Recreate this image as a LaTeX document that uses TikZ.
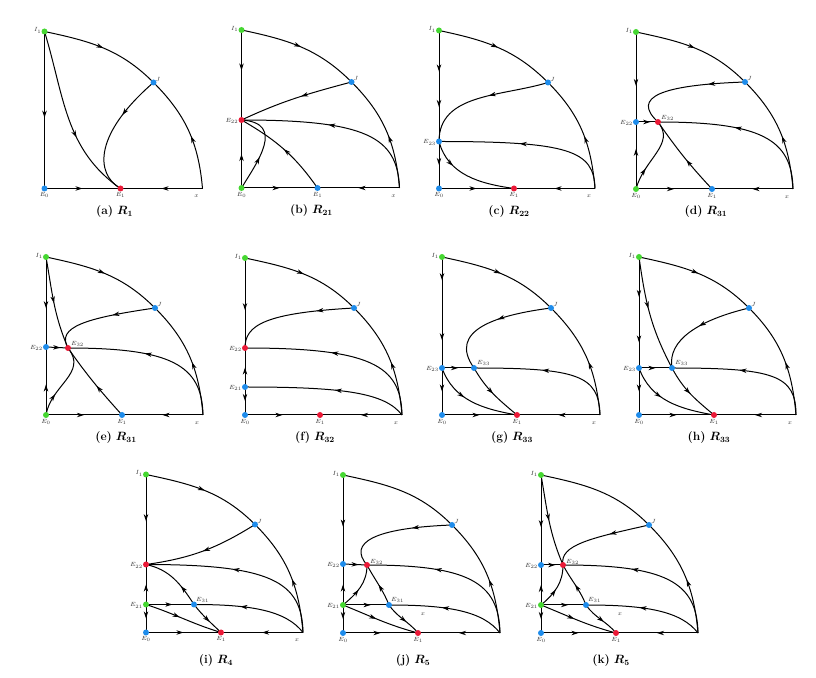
\documentclass[tikz,border=0pt]{standalone}
\usepackage{bm}
\usetikzlibrary{arrows.meta,decorations.markings}
\definecolor{cg}{RGB}{70,215,50}
\definecolor{cb}{RGB}{30,140,235}
\definecolor{cr}{RGB}{235,25,55}
\tikzset{
  traj/.style={line width=1pt,draw=black},
  arr/.style={postaction={decorate,decoration={markings,mark=at position #1 with {\arrow{Stealth[length=7pt,width=4.4pt,inset=2pt]}}}}},
  arr/.default=0.5,
  eqdot/.style={circle,inner sep=0pt,minimum size=6pt,draw=none},
  lab/.style={font=\fontsize{6.3}{7}\selectfont,text=black!80,inner sep=0pt},
  captxt/.style={font=\fontsize{12}{14}\selectfont,inner sep=0pt}
}
\newcommand{\EqPt}[5]{\node[eqdot,fill=#2] (#1d) at (#1) {};\node[lab,anchor=#3] (#1l) at ([shift={(#4)}]#1) {$#5$};}
\begin{document}
\begin{tikzpicture}[x=1pt,y=1pt]
\useasboundingbox (0,0) rectangle (816,677);
% ---------------- (a)
\begin{scope}[shift={(44.5,488.5)}]
\coordinate (a-I1) at (0,157); \coordinate (a-E0) at (0,0); \coordinate (a-E1) at (76,0);
\coordinate (a-X) at (158,0); \coordinate (a-J) at (109,106);
\draw[traj,arr=0.55] (a-I1) -- (a-E0);
\draw[traj,arr] (a-E0) -- (a-E1);
\draw[traj,arr] (a-X) -- (a-E1);
\draw[traj,arr] (a-I1) to[out=-12,in=135] (a-J);
\draw[traj,arr=0.45] (a-X) to[out=95,in=-45] (a-J);
\draw[traj,arr=0.62] (a-I1) to[out=-73,in=145] (a-E1);
\draw[traj,arr=0.35] (a-J) .. controls (50,55) and (50,15) .. (a-E1);
\EqPt{a-I1}{cg}{east}{-3,1}{I_1}
\EqPt{a-E0}{cb}{north}{0,-4}{E_0}
\EqPt{a-E1}{cr}{north}{0,-4}{E_1}
\EqPt{a-J}{cb}{south west}{2,1}{J}
\node[lab] (a-xl) at ([shift={(-6,-8)}]a-X) {$x$};
\node[captxt] (a-cap) at (70,-23) {\textbf{(a)} $\bm{R_{1}}$};
\end{scope}
% ---------------- (b)
\begin{scope}[shift={(241.5,489)}]
\coordinate (b-I1) at (0,158); \coordinate (b-E22) at (0,68); \coordinate (b-E0) at (0,0);
\coordinate (b-E1) at (76,0); \coordinate (b-X) at (158,0); \coordinate (b-J) at (110,106);
\draw[traj,arr=0.45] (b-I1) -- (b-E22);
\draw[traj,arr] (b-E0) -- (b-E22);
\draw[traj,arr] (b-E0) -- (b-E1);
\draw[traj,arr] (b-X) -- (b-E1);
\draw[traj,arr] (b-I1) to[out=-12,in=135] (b-J);
\draw[traj,arr=0.45] (b-X) to[out=95,in=-45] (b-J);
\draw[traj,arr=0.45] (b-J) to[out=195,in=25] (b-E22);
\draw[traj,arr=0.55] (b-X) .. controls (156,51) and (125,68) .. (b-E22);
\draw[traj,arr] (b-E1) to[out=125,in=-30] (b-E22);
\draw[traj,arr=0.4] (b-E0) .. controls (15,25) and (45,65) .. (b-E22);
\EqPt{b-I1}{cg}{east}{-3,1}{I_1}
\EqPt{b-E22}{cr}{east}{-3,-1}{E_{22}}
\EqPt{b-E0}{cg}{north}{0,-4}{E_0}
\EqPt{b-E1}{cb}{north}{0,-4}{E_1}
\EqPt{b-J}{cb}{south west}{2,1}{J}
\node[lab] (b-xl) at ([shift={(-6,-8)}]b-X) {$x$};
\node[captxt] (b-cap) at (70,-23) {\textbf{(b)} $\bm{R_{21}}$};
\end{scope}
% ---------------- (c)
\begin{scope}[shift={(439,488.5)}]
\coordinate (c-I1) at (0,158); \coordinate (c-E23) at (0,47); \coordinate (c-E0) at (0,0);
\coordinate (c-E1) at (75,0); \coordinate (c-X) at (156,0); \coordinate (c-J) at (109,106);
\draw[traj,arr=0.37,arr=0.69] (c-I1) -- (c-E23);
\draw[traj,arr] (c-E23) -- (c-E0);
\draw[traj,arr] (c-E0) -- (c-E1);
\draw[traj,arr] (c-X) -- (c-E1);
\draw[traj,arr] (c-I1) to[out=-12,in=135] (c-J);
\draw[traj,arr=0.45] (c-X) to[out=95,in=-45] (c-J);
\draw[traj,arr=0.45] (c-J) to[out=197,in=90] (c-E23);
\draw[traj,arr=0.55] (c-X) .. controls (155,38) and (130,47) .. (c-E23);
\draw[traj,arr=0.3] (c-E23) to[out=-75,in=172] (c-E1);
\EqPt{c-I1}{cg}{east}{-3,1}{I_1}
\EqPt{c-E23}{cb}{east}{-3,-1}{E_{23}}
\EqPt{c-E0}{cb}{north}{0,-4}{E_0}
\EqPt{c-E1}{cr}{north}{0,-4}{E_1}
\EqPt{c-J}{cb}{south west}{2,1}{J}
\node[lab] (c-xl) at ([shift={(-6,-8)}]c-X) {$x$};
\node[captxt] (c-cap) at (70,-23) {\textbf{(c)} $\bm{R_{22}}$};
\end{scope}
% ---------------- (d)
\begin{scope}[shift={(636,488)}]
\coordinate (d-I1) at (0,157); \coordinate (d-E22) at (0,67); \coordinate (d-E32) at (22,67);
\coordinate (d-E0) at (0,0); \coordinate (d-E1) at (76,0); \coordinate (d-X) at (157,0);
\coordinate (d-J) at (109,107);
\draw[traj,arr=0.6] (d-I1) -- (d-E22);
\draw[traj,arr=0.6] (d-E0) -- (d-E22);
\draw[traj,arr=0.65] (d-E22) -- (d-E32);
\draw[traj,arr] (d-E0) -- (d-E1);
\draw[traj,arr] (d-X) -- (d-E1);
\draw[traj,arr] (d-I1) to[out=-12,in=135] (d-J);
\draw[traj,arr=0.45] (d-X) to[out=95,in=-45] (d-J);
\draw[traj,arr=0.3] (d-J) .. controls (25,104) and (-5,92) .. (d-E32);
\draw[traj,arr=0.55] (d-X) .. controls (156,50) and (125,67) .. (d-E32);
\draw[traj,arr=0.45] (d-E1) to[out=133,in=-55] (d-E32);
\draw[traj,arr=0.3] (d-E0) .. controls (8,30) and (40,45) .. (d-E32);
\EqPt{d-I1}{cg}{east}{-3,1}{I_1}
\EqPt{d-E22}{cb}{east}{-3,-1}{E_{22}}
\EqPt{d-E32}{cr}{south west}{3,1}{E_{32}}
\EqPt{d-E0}{cg}{north}{0,-4}{E_0}
\EqPt{d-E1}{cb}{north}{0,-4}{E_1}
\EqPt{d-J}{cb}{south west}{2,1}{J}
\node[lab] (d-xl) at ([shift={(-6,-8)}]d-X) {$x$};
\node[captxt] (d-cap) at (70,-23) {\textbf{(d)} $\bm{R_{31}}$};
\end{scope}
% ---------------- (e)
\begin{scope}[shift={(46,262)}]
\coordinate (e-I1) at (0,158); \coordinate (e-E22) at (0,68); \coordinate (e-E32) at (22,67);
\coordinate (e-E0) at (0,0); \coordinate (e-E1) at (76,0); \coordinate (e-X) at (157,0);
\coordinate (e-J) at (109,107);
\draw[traj,arr=0.57] (e-I1) -- (e-E22);
\draw[traj,arr=0.45] (e-E0) -- (e-E22);
\draw[traj,arr=0.65] (e-E22) -- (e-E32);
\draw[traj,arr] (e-E0) -- (e-E1);
\draw[traj,arr] (e-X) -- (e-E1);
\draw[traj,arr] (e-I1) to[out=-12,in=135] (e-J);
\draw[traj,arr=0.45] (e-X) to[out=95,in=-45] (e-J);
\draw[traj,arr=0.5] (e-I1) to[out=-80,in=113] (e-E32);
\draw[traj,arr=0.4] (e-J) .. controls (40,97) and (10,88) .. (e-E32);
\draw[traj,arr=0.55] (e-X) .. controls (156,50) and (125,67) .. (e-E32);
\draw[traj,arr=0.45] (e-E1) to[out=132,in=-55] (e-E32);
\draw[traj,arr=0.3] (e-E0) .. controls (5,30) and (42,42) .. (e-E32);
\EqPt{e-I1}{cg}{east}{-3,1}{I_1}
\EqPt{e-E22}{cb}{east}{-3,-1}{E_{22}}
\EqPt{e-E32}{cr}{south west}{3,1}{E_{32}}
\EqPt{e-E0}{cg}{north}{0,-4}{E_0}
\EqPt{e-E1}{cb}{north}{0,-4}{E_1}
\EqPt{e-J}{cb}{south west}{2,1}{J}
\node[lab] (e-xl) at ([shift={(-6,-8)}]e-X) {$x$};
\node[captxt] (e-cap) at (70,-23) {\textbf{(e)} $\bm{R_{31}}$};
\end{scope}
% ---------------- (f)
\begin{scope}[shift={(245,262)}]
\coordinate (f-I1) at (0,157); \coordinate (f-E22) at (0,67); \coordinate (f-E21) at (0,28);
\coordinate (f-E0) at (0,0); \coordinate (f-E1) at (75,0); \coordinate (f-X) at (157,0);
\coordinate (f-J) at (109,107);
\draw[traj,arr=0.58] (f-I1) -- (f-E22);
\draw[traj,arr] (f-E21) -- (f-E22);
\draw[traj,arr] (f-E21) -- (f-E0);
\draw[traj,arr] (f-E0) -- (f-E1);
\draw[traj,arr] (f-X) -- (f-E1);
\draw[traj,arr] (f-I1) to[out=-12,in=135] (f-J);
\draw[traj,arr=0.45] (f-X) to[out=95,in=-45] (f-J);
\draw[traj,arr=0.3] (f-J) .. controls (20,102) and (0,90) .. (f-E22);
\draw[traj,arr=0.55] (f-X) .. controls (156,50) and (125,67) .. (f-E22);
\draw[traj,arr=0.45] (f-X) .. controls (140,22) and (100,28) .. (f-E21);
\EqPt{f-I1}{cg}{east}{-3,1}{I_1}
\EqPt{f-E22}{cr}{east}{-3,-1}{E_{22}}
\EqPt{f-E21}{cb}{east}{-3,-1}{E_{21}}
\EqPt{f-E0}{cb}{north}{0,-4}{E_0}
\EqPt{f-E1}{cr}{north}{0,-4}{E_1}
\EqPt{f-J}{cb}{south west}{2,1}{J}
\node[lab] (f-xl) at ([shift={(-6,-8)}]f-X) {$x$};
\node[captxt] (f-cap) at (70,-23) {\textbf{(f)} $\bm{R_{32}}$};
\end{scope}
% ---------------- (g)
\begin{scope}[shift={(442,262)}]
\coordinate (g-I1) at (0,158); \coordinate (g-E23) at (0,47); \coordinate (g-E33) at (32,47);
\coordinate (g-E0) at (0,0); \coordinate (g-E1) at (75,0); \coordinate (g-X) at (158,0);
\coordinate (g-J) at (109,107);
\draw[traj,arr=0.21,arr=0.75] (g-I1) -- (g-E23);
\draw[traj,arr] (g-E23) -- (g-E0);
\draw[traj,arr] (g-E23) -- (g-E33);
\draw[traj,arr] (g-E0) -- (g-E1);
\draw[traj,arr] (g-X) -- (g-E1);
\draw[traj,arr] (g-I1) to[out=-12,in=135] (g-J);
\draw[traj,arr=0.45] (g-X) to[out=95,in=-45] (g-J);
\draw[traj,arr=0.45] (g-J) .. controls (55,100) and (5,85) .. (g-E33);
\draw[traj,arr=0.55] (g-X) .. controls (157,40) and (135,47) .. (g-E33);
\draw[traj,arr] (g-E33) to[out=-60,in=140] (g-E1);
\draw[traj,arr=0.4] (g-E23) to[out=-70,in=170] (g-E1);
\EqPt{g-I1}{cg}{east}{-3,1}{I_1}
\EqPt{g-E23}{cb}{east}{-3,-1}{E_{23}}
\EqPt{g-E33}{cb}{south west}{3,2}{E_{33}}
\EqPt{g-E0}{cb}{north}{0,-4}{E_0}
\EqPt{g-E1}{cr}{north}{0,-4}{E_1}
\EqPt{g-J}{cb}{south west}{2,1}{J}
\node[lab] (g-xl) at ([shift={(-6,-8)}]g-X) {$x$};
\node[captxt] (g-cap) at (70,-23) {\textbf{(g)} $\bm{R_{33}}$};
\end{scope}
% ---------------- (h)
\begin{scope}[shift={(639,262)}]
\coordinate (h-I1) at (0,158); \coordinate (h-E23) at (0,47); \coordinate (h-E33) at (33,47);
\coordinate (h-E0) at (0,0); \coordinate (h-E1) at (75,0); \coordinate (h-X) at (157,0);
\coordinate (h-J) at (110,107);
\draw[traj,arr=0.36,arr=0.77] (h-I1) -- (h-E23);
\draw[traj,arr] (h-E23) -- (h-E0);
\draw[traj,arr] (h-E23) -- (h-E33);
\draw[traj,arr] (h-E0) -- (h-E1);
\draw[traj,arr] (h-X) -- (h-E1);
\draw[traj,arr] (h-I1) to[out=-12,in=135] (h-J);
\draw[traj,arr=0.45] (h-X) to[out=95,in=-45] (h-J);
\draw[traj,arr=0.45] (h-I1) to[out=-82,in=118] (h-E33);
\draw[traj,arr=0.5] (h-J) .. controls (60,95) and (28,75) .. (h-E33);
\draw[traj,arr=0.55] (h-X) .. controls (157,40) and (135,47) .. (h-E33);
\draw[traj,arr] (h-E33) to[out=-62,in=140] (h-E1);
\draw[traj,arr=0.4] (h-E23) to[out=-70,in=170] (h-E1);
\EqPt{h-I1}{cg}{east}{-3,1}{I_1}
\EqPt{h-E23}{cb}{east}{-3,-1}{E_{23}}
\EqPt{h-E33}{cb}{south west}{3,2}{E_{33}}
\EqPt{h-E0}{cb}{north}{0,-4}{E_0}
\EqPt{h-E1}{cr}{north}{0,-4}{E_1}
\EqPt{h-J}{cb}{south west}{2,1}{J}
\node[lab] (h-xl) at ([shift={(-6,-8)}]h-X) {$x$};
\node[captxt] (h-cap) at (70,-23) {\textbf{(h)} $\bm{R_{33}}$};
\end{scope}
% ---------------- (i)
\begin{scope}[shift={(146,44.5)}]
\coordinate (i-I1) at (0,158); \coordinate (i-E22) at (0,68); \coordinate (i-E21) at (0,28);
\coordinate (i-E31) at (48,28); \coordinate (i-E0) at (0,0); \coordinate (i-E1) at (75,0);
\coordinate (i-X) at (157,0); \coordinate (i-J) at (109,108);
\draw[traj,arr=0.52] (i-I1) -- (i-E22);
\draw[traj,arr=0.5] (i-E21) -- (i-E22);
\draw[traj,arr=0.5] (i-E21) -- (i-E0);
\draw[traj,arr=0.55] (i-E21) -- (i-E31);
\draw[traj,arr] (i-E0) -- (i-E1);
\draw[traj,arr] (i-X) -- (i-E1);
\draw[traj,arr] (i-I1) to[out=-12,in=135] (i-J);
\draw[traj,arr=0.45] (i-X) to[out=95,in=-45] (i-J);
\draw[traj,arr=0.5] (i-J) to[out=212,in=8] (i-E22);
\draw[traj,arr=0.55] (i-X) .. controls (156,51) and (125,68) .. (i-E22);
\draw[traj,arr=0.6] (i-X) .. controls (140,22) and (105,28) .. (i-E31);
\draw[traj,arr=0.35] (i-E31) to[out=123,in=-12] (i-E22);
\draw[traj,arr=0.6] (i-E31) to[out=-52,in=136] (i-E1);
\draw[traj,arr=0.45] (i-E21) to[out=-18,in=163] (i-E1);
\EqPt{i-I1}{cg}{east}{-3,1}{I_1}
\EqPt{i-E22}{cr}{east}{-3,-1}{E_{22}}
\EqPt{i-E21}{cg}{east}{-3,-1}{E_{21}}
\EqPt{i-E31}{cb}{south west}{2,2}{E_{31}}
\EqPt{i-E0}{cb}{north}{0,-4}{E_0}
\EqPt{i-E1}{cr}{north}{0,-4}{E_1}
\EqPt{i-J}{cb}{south west}{2,1}{J}
\node[lab] (i-xl) at ([shift={(-6,-8)}]i-X) {$x$};
\node[captxt] (i-cap) at (70,-28) {\textbf{(i)} $\bm{R_{4}}$};
\end{scope}
% ---------------- (j)
\begin{scope}[shift={(343,44)}]
\coordinate (j-I1) at (0,158); \coordinate (j-E22) at (0,69); \coordinate (j-E32) at (24,68);
\coordinate (j-E21) at (0,28); \coordinate (j-E31) at (46,28); \coordinate (j-E0) at (0,0);
\coordinate (j-E1) at (75,0); \coordinate (j-X) at (157,0); \coordinate (j-J) at (109,108);
\draw[traj,arr=0.58] (j-I1) -- (j-E22);
\draw[traj,arr] (j-E21) -- (j-E22);
\draw[traj,arr] (j-E21) -- (j-E0);
\draw[traj,arr=0.65] (j-E22) -- (j-E32);
\draw[traj,arr=0.6] (j-E21) -- (j-E31);
\draw[traj,arr] (j-E0) -- (j-E1);
\draw[traj,arr] (j-X) -- (j-E1);
\draw[traj] (j-I1) to[out=-12,in=135] (j-J);
\draw[traj,arr=0.45] (j-X) to[out=95,in=-45] (j-J);
\draw[traj,arr=0.35] (j-J) .. controls (30,105) and (5,90) .. (j-E32);
\draw[traj,arr=0.6] (j-X) .. controls (156,51) and (125,68) .. (j-E32);
\draw[traj,arr=0.55] (j-X) .. controls (140,22) and (105,28) .. (j-E31);
\draw[traj,arr=0.45] (j-E21) to[out=40,in=-90] (j-E32);
\draw[traj,arr] (j-E31) to[out=112,in=-62] (j-E32);
\draw[traj,arr=0.6] (j-E31) to[out=-55,in=130] (j-E1);
\draw[traj,arr=0.45] (j-E21) to[out=-22,in=165] (j-E1);
\EqPt{j-I1}{cg}{east}{-3,1}{I_1}
\EqPt{j-E22}{cb}{east}{-3,-1}{E_{22}}
\EqPt{j-E32}{cr}{south west}{3,0}{E_{32}}
\EqPt{j-E21}{cg}{east}{-3,-1}{E_{21}}
\EqPt{j-E31}{cb}{south west}{2,2}{E_{31}}
\EqPt{j-E0}{cb}{north}{0,-4}{E_0}
\EqPt{j-E1}{cr}{north}{0,-4}{E_1}
\EqPt{j-J}{cb}{south west}{2,1}{J}
\node[lab] (j-xl) at (80,19) {$x$};
\node[captxt] (j-cap) at (70,-28) {\textbf{(j)} $\bm{R_{5}}$};
\end{scope}
% ---------------- (k)
\begin{scope}[shift={(541,44)}]
\coordinate (k-I1) at (0,158); \coordinate (k-E22) at (0,68); \coordinate (k-E32) at (22,68);
\coordinate (k-E21) at (0,28); \coordinate (k-E31) at (45,28); \coordinate (k-E0) at (0,0);
\coordinate (k-E1) at (75,0); \coordinate (k-X) at (157,0); \coordinate (k-J) at (108,108);
\draw[traj,arr=0.58] (k-I1) -- (k-E22);
\draw[traj,arr] (k-E21) -- (k-E22);
\draw[traj,arr] (k-E21) -- (k-E0);
\draw[traj,arr=0.65] (k-E22) -- (k-E32);
\draw[traj,arr=0.6] (k-E21) -- (k-E31);
\draw[traj,arr] (k-E0) -- (k-E1);
\draw[traj,arr] (k-X) -- (k-E1);
\draw[traj] (k-I1) to[out=-12,in=135] (k-J);
\draw[traj,arr=0.45] (k-X) to[out=95,in=-45] (k-J);
\draw[traj,arr=0.5] (k-I1) to[out=-80,in=113] (k-E32);
\draw[traj,arr=0.4] (k-J) .. controls (50,95) and (18,88) .. (k-E32);
\draw[traj,arr=0.6] (k-X) .. controls (156,51) and (125,68) .. (k-E32);
\draw[traj,arr=0.55] (k-X) .. controls (140,22) and (105,28) .. (k-E31);
\draw[traj,arr=0.45] (k-E21) to[out=40,in=-90] (k-E32);
\draw[traj,arr] (k-E31) to[out=112,in=-62] (k-E32);
\draw[traj,arr=0.6] (k-E31) to[out=-55,in=130] (k-E1);
\draw[traj,arr=0.45] (k-E21) to[out=-22,in=165] (k-E1);
\EqPt{k-I1}{cg}{east}{-3,1}{I_1}
\EqPt{k-E22}{cb}{east}{-3,-1}{E_{22}}
\EqPt{k-E32}{cr}{south west}{3,0}{E_{32}}
\EqPt{k-E21}{cg}{east}{-3,-1}{E_{21}}
\EqPt{k-E31}{cb}{south west}{2,2}{E_{31}}
\EqPt{k-E0}{cb}{north}{0,-4}{E_0}
\EqPt{k-E1}{cr}{north}{0,-4}{E_1}
\EqPt{k-J}{cb}{south west}{2,1}{J}
\node[lab] (k-xl) at (79,19) {$x$};
\node[captxt] (k-cap) at (70,-28) {\textbf{(k)} $\bm{R_{5}}$};
\end{scope}
\end{tikzpicture}
\end{document}
